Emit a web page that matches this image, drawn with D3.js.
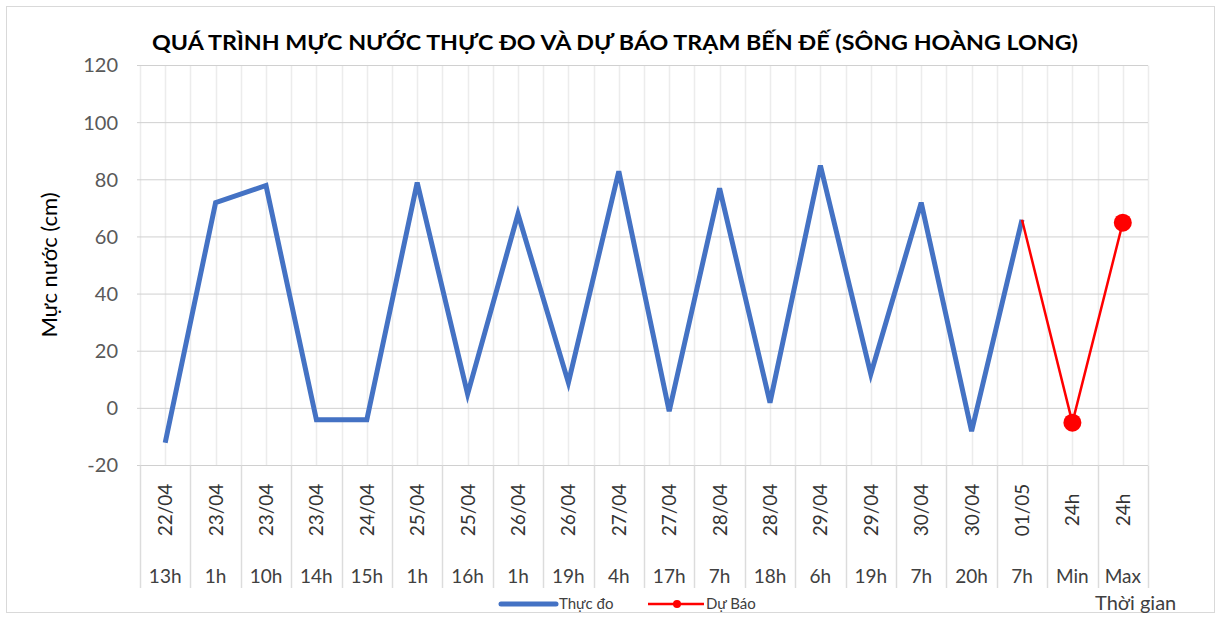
<!DOCTYPE html>
<html>
<head>
<meta charset="utf-8">
<title>Mực nước Bến Đế</title>
<style>
	body { margin: 0; background: #fff; }
	svg { display: block; font-family: Lato, "Open Sans", sans-serif; }
	.tick text { fill: #595959; }
</style>
<script src="https://d3js.org/d3.v7.min.js"></script>
</head>
<body>
<div id="chart"></div>
<script>
// categories: date row and hour row
var dates = ["22/04","23/04","23/04","23/04","24/04","25/04","25/04","26/04","26/04","27/04",
	"27/04","28/04","28/04","29/04","29/04","30/04","30/04","01/05","24h","24h"];
var hours = ["13h","1h","10h","14h","15h","1h","16h","1h","19h","4h",
	"17h","7h","18h","6h","19h","7h","20h","7h","Min","Max"];

// observed (Thực đo), null where no value
var observed = [-12, 72, 78, -4, -4, 79, 5, 68, 9, 83, -1, 77, 2, 85, 12, 72, -8, 66, null, null];
// forecast (Dự Báo)
var forecast = [null, null, null, null, null, null, null, null, null, null,
	null, null, null, null, null, null, null, 66, -5, 65];
var markerIdx = [18, 19];

var yTicks = [-20, 0, 20, 40, 60, 80, 100, 120];

var W = 1219, H = 618;
var svg = d3.select("#chart").append("svg").attr("width", W).attr("height", H);

// outer frame
svg.append("rect").attr("x", 6.5).attr("y", 6.5).attr("width", 1208).attr("height", 606)
	.attr("fill", "#fff").attr("stroke", "#d9d9d9");

var idx = d3.range(dates.length);
var x = d3.scaleBand().domain(idx).range([140, 1148]);
var bw = x.bandwidth();
var cx = function(i) { return x(i) + bw / 2; };
var y = d3.scaleLinear().domain([-20, 120]).range([465.5, 65.5]);

// vertical grid: category boundaries and centers
var vlines = [];
idx.forEach(function(i) { vlines.push(x(i)); vlines.push(cx(i)); });
vlines.push(x(idx.length - 1) + bw);
svg.append("g").selectAll("line").data(vlines).enter().append("line")
	.attr("x1", function(d) { return Math.round(d) + 0.5; })
	.attr("x2", function(d) { return Math.round(d) + 0.5; })
	.attr("y1", y(120)).attr("y2", y(-20))
	.attr("stroke", "#ececec").attr("stroke-width", 1.5);

// horizontal grid
svg.append("g").selectAll("line").data(yTicks).enter().append("line")
	.attr("x1", 137).attr("x2", 1148)
	.attr("y1", function(d) { return y(d); }).attr("y2", function(d) { return y(d); })
	.attr("stroke", "#d0d0d0").attr("stroke-width", 1);

// y axis labels
var yAxis = d3.axisLeft(y).tickValues(yTicks).tickFormat(String).tickSize(0).tickPadding(19);
var gy = svg.append("g").attr("transform", "translate(137,0)").call(yAxis);
gy.select(".domain").remove();
gy.selectAll("text").style("font-size", "20px").style("font-family", "Lato, sans-serif");

svg.append("text")
	.attr("transform", "translate(57,265) rotate(-90)")
	.attr("text-anchor", "middle")
	.style("font-size", "22px").attr("fill", "#000")
	.text("Mực nước (cm)");

// category label area separators
var seps = idx.map(function(i) { return x(i); });
seps.push(x(idx.length - 1) + bw);
svg.append("g").selectAll("line").data(seps).enter().append("line")
	.attr("x1", function(d) { return Math.round(d) + 0.5; })
	.attr("x2", function(d) { return Math.round(d) + 0.5; })
	.attr("y1", y(-20)).attr("y2", 588)
	.attr("stroke", "#dcdcdc").attr("stroke-width", 1.5);

var gx = svg.append("g");
gx.selectAll(".date").data(idx).enter().append("text")
	.attr("class", "date")
	.attr("transform", function(i) { return "translate(" + (cx(i) + 7) + ",510) rotate(-90)"; })
	.attr("text-anchor", "middle")
	.style("font-size", "19px").attr("fill", "#333")
	.text(function(i) { return dates[i]; });
gx.selectAll(".hour").data(idx).enter().append("text")
	.attr("class", "hour")
	.attr("x", function(i) { return cx(i); }).attr("y", 583)
	.attr("text-anchor", "middle")
	.style("font-size", "19px").attr("fill", "#404040")
	.text(function(i) { return hours[i]; });

// lines
var line = d3.line()
	.defined(function(d) { return d != null; })
	.x(function(d, i) { return cx(i); })
	.y(function(d) { return y(d); });

svg.append("path").datum(observed)
	.attr("d", line).attr("fill", "none")
	.attr("stroke", "#4472c4").attr("stroke-width", 5).attr("stroke-linejoin", "miter");

svg.append("path").datum(forecast)
	.attr("d", line).attr("fill", "none")
	.attr("stroke", "#ff0000").attr("stroke-width", 2.5);

svg.append("g").selectAll("circle").data(markerIdx).enter().append("circle")
	.attr("cx", function(i) { return cx(i); })
	.attr("cy", function(i) { return y(forecast[i]); })
	.attr("r", 9).attr("fill", "#ff0000");

// title
svg.append("text")
	.attr("x", 152).attr("y", 50)
	.attr("textLength", 926).attr("lengthAdjust", "spacingAndGlyphs")
	.style("font-size", "21px").style("font-weight", "bold").attr("fill", "#000")
	.text("QUÁ TRÌNH MỰC NƯỚC THỰC ĐO VÀ DỰ BÁO TRẠM BẾN ĐẾ (SÔNG HOÀNG LONG)");

// legend
var lg = svg.append("g");
lg.append("line").attr("x1", 501).attr("x2", 556).attr("y1", 604).attr("y2", 604)
	.attr("stroke", "#4472c4").attr("stroke-width", 5).attr("stroke-linecap", "round");
lg.append("text").attr("x", 559).attr("y", 609).style("font-size", "15px").attr("fill", "#404040")
	.text("Thực đo");
lg.append("line").attr("x1", 648).attr("x2", 704).attr("y1", 604).attr("y2", 604)
	.attr("stroke", "#ff0000").attr("stroke-width", 2.5);
lg.append("circle").attr("cx", 677).attr("cy", 604).attr("r", 4).attr("fill", "#ff0000");
lg.append("text").attr("x", 706).attr("y", 609).style("font-size", "15px").attr("fill", "#404040")
	.text("Dự Báo");

svg.append("text").attr("x", 1095).attr("y", 610)
	.style("font-size", "20px").attr("fill", "#404040")
	.text("Thời gian");
</script>
</body>
</html>
